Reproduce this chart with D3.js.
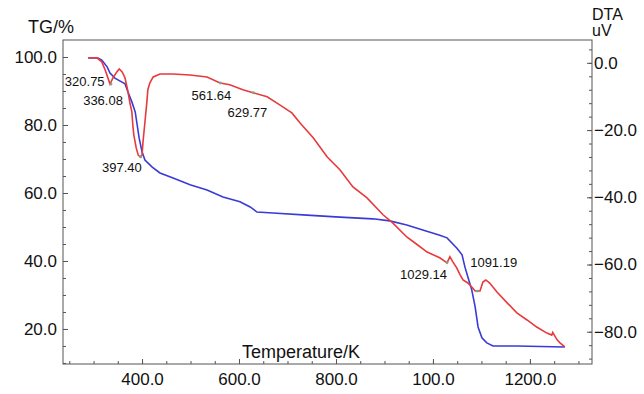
<!DOCTYPE html>
<html>
<head>
<meta charset="utf-8">
<script src="https://cdn.jsdelivr.net/npm/d3@7"></script>
<style>
  body { margin: 0; background: #fff; }
  svg text { font-family: "Liberation Sans", Arial, sans-serif; fill: #111; }
</style>
</head>
<body>
<svg width="644" height="394"></svg>
<script>
// TG curve (blue, left axis)
const tgTemp  = [289, 309, 317, 328, 334, 344, 355, 365, 371, 379, 386, 390, 394, 400, 406, 421, 437, 464, 499, 534, 567, 602, 623, 637, 670, 740, 808, 876, 911, 946, 979, 1014, 1029, 1049, 1060, 1066, 1072, 1080, 1087, 1093, 1101, 1111, 1124, 1173, 1272];
const tgValue = [99.7, 99.7, 99.1, 97.1, 95.3, 93.8, 92.9, 92.1, 89.7, 86.8, 83.8, 80.0, 76.2, 72.1, 69.7, 67.6, 65.9, 64.4, 62.4, 60.9, 58.8, 57.4, 55.9, 54.4, 54.1, 53.5, 52.9, 52.4, 51.8, 50.6, 49.1, 47.6, 46.8, 43.8, 41.8, 38.2, 35.3, 31.5, 26.5, 20.6, 17.4, 15.9, 15.0, 15.0, 14.7];

// DTA curve (red, right axis)
const dtaTemp  = [289, 307, 317, 324, 334, 340, 348, 353, 359, 365, 371, 375, 379, 381, 383, 388, 392, 396, 400, 402, 406, 410, 412, 416, 423, 437, 464, 499, 534, 561, 581, 608, 629, 658, 684, 709, 726, 753, 782, 808, 835, 864, 897, 917, 946, 963, 988, 1014, 1029, 1035, 1041, 1049, 1056, 1062, 1072, 1080, 1087, 1097, 1103, 1109, 1117, 1132, 1153, 1173, 1194, 1214, 1235, 1245, 1247, 1256, 1262, 1272];
const dtaValue = [1.5, 1.5, 0.3, -2.1, -6.3, -4.5, -2.7, -1.8, -2.7, -4.5, -8.6, -11.9, -14.6, -18.5, -21.4, -25.3, -27.4, -28.0, -27.4, -23.5, -17.6, -11.6, -8.0, -6.0, -4.2, -3.3, -3.3, -3.6, -4.2, -6.0, -6.5, -8.0, -8.9, -10.1, -12.5, -14.9, -17.9, -22.3, -28.0, -31.8, -36.9, -40.2, -45.2, -47.6, -51.8, -53.6, -56.3, -58.0, -59.5, -57.7, -59.2, -61.0, -63.1, -64.6, -65.5, -66.7, -67.9, -67.9, -65.2, -64.6, -65.5, -68.2, -71.4, -74.4, -76.5, -78.6, -80.4, -81.0, -80.2, -82.4, -83.3, -84.5];

// tick values and labels (the 1000 tick is printed as "100.0" in the original)
const xTicks = [400, 600, 800, 1000, 1200];
const xTickLabels = ["400.0", "600.0", "800.0", "100.0", "1200.0"];
const tgTicks = [20, 40, 60, 80, 100];
const dtaTicks = [-80, -60, -40, -20, 0];

// peak annotations
const peakLabels = ["320.75", "336.08", "397.40", "561.64", "629.77", "1029.14", "1091.19"];
const peakTemp   = [320.75, 336.08, 397.40, 561.64, 629.77, 1029.14, 1091.19];
const peakDta    = [-1.0, -6.3, -28.0, -6.0, -8.9, -59.5, -67.9];

const svg = d3.select("svg"),
      margin = {top: 40, right: 52, bottom: 30, left: 63},
      width = +svg.attr("width") - margin.left - margin.right,
      height = +svg.attr("height") - margin.top - margin.bottom;

const g = svg.append("g")
    .attr("transform", "translate(" + margin.left + "," + margin.top + ")");

const x = d3.scaleLinear().domain([237, 1328]).range([0, width]);
const yTG = d3.scaleLinear().domain([9.7, 105]).range([height, 0]);
const yDTA = d3.scaleLinear().domain([-89.6, 6.8]).range([height, 0]);

const fmt = d => d3.format(".1f")(d).replace("-", "\u2212");

// frame
g.append("rect")
    .attr("width", width).attr("height", height)
    .attr("fill", "none").attr("stroke", "#555").attr("stroke-width", 1);

// minor ticks
g.append("g").attr("transform", "translate(0," + height + ")")
    .call(d3.axisBottom(x).tickValues(d3.range(250, 1301, 50)).tickSize(-3).tickFormat(""))
    .call(a => a.select(".domain").remove());
g.append("g")
    .call(d3.axisLeft(yTG).tickValues(d3.range(10, 105, 5)).tickSize(-3).tickFormat(""))
    .call(a => a.select(".domain").remove());
g.append("g").attr("transform", "translate(" + width + ",0)")
    .call(d3.axisRight(yDTA).tickValues(d3.range(-88, 6, 4)).tickSize(-3).tickFormat(""))
    .call(a => a.select(".domain").remove());

// major ticks + labels
const xAxis = g.append("g").attr("transform", "translate(0," + height + ")")
    .call(d3.axisBottom(x).tickValues(xTicks).tickSize(-5).tickPadding(9)
        .tickFormat((d, i) => xTickLabels[i]));
const yAxisL = g.append("g")
    .call(d3.axisLeft(yTG).tickValues(tgTicks).tickSize(-5).tickPadding(6).tickFormat(fmt));
const yAxisR = g.append("g").attr("transform", "translate(" + width + ",0)")
    .call(d3.axisRight(yDTA).tickValues(dtaTicks).tickSize(-5).tickPadding(2).tickFormat(fmt));

[xAxis, yAxisL, yAxisR].forEach(a => {
    a.select(".domain").remove();
    a.selectAll("text").attr("font-size", 17).attr("font-family", "Liberation Sans, Arial, sans-serif").attr("fill", "#111");
});
g.selectAll(".tick line").attr("stroke", "#555");

// curves
const tgData = tgTemp.map((t, i) => [t, tgValue[i]]);
const dtaData = dtaTemp.map((t, i) => [t, dtaValue[i]]);

g.append("path")
    .datum(tgData)
    .attr("fill", "none")
    .attr("stroke", "#3a3ad6")
    .attr("stroke-width", 1.6)
    .attr("d", d3.line().x(d => x(d[0])).y(d => yTG(d[1])));

g.append("path")
    .datum(dtaData)
    .attr("fill", "none")
    .attr("stroke", "#e8393c")
    .attr("stroke-width", 1.6)
    .attr("d", d3.line().x(d => x(d[0])).y(d => yDTA(d[1])));

// peak dots and labels
const labelAnchor = ["end", "middle", "end", "middle", "middle", "end", "start"];
const labelDx = [1, -8, 1, -9, -6, 0, -7];
const labelDy = [20, 21, 15, 17, 24, 16, -24];

g.selectAll(".peak")
    .data(peakTemp.slice(1))
    .enter().append("circle")
    .attr("class", "peak")
    .attr("cx", d => x(d))
    .attr("cy", (d, i) => yDTA(peakDta[i + 1]))
    .attr("r", 1.4)
    .attr("fill", "#7aa98a");

g.selectAll(".peak-label")
    .data(peakLabels)
    .enter().append("text")
    .attr("class", "peak-label")
    .attr("x", (d, i) => x(peakTemp[i]) + labelDx[i])
    .attr("y", (d, i) => yDTA(peakDta[i]) + labelDy[i])
    .attr("text-anchor", (d, i) => labelAnchor[i])
    .attr("font-size", 13)
    .text(d => d);

// axis titles
svg.append("text").attr("x", 28).attr("y", 33).attr("font-size", 18).text("TG/%");
svg.append("text").attr("x", 592).attr("y", 20).attr("font-size", 16).text("DTA");
svg.append("text").attr("x", 592).attr("y", 36).attr("font-size", 16).text("uV");
g.append("text").attr("x", 242 - margin.left).attr("y", 358 - margin.top)
    .attr("font-size", 18).text("Temperature/K");
</script>
</body>
</html>
